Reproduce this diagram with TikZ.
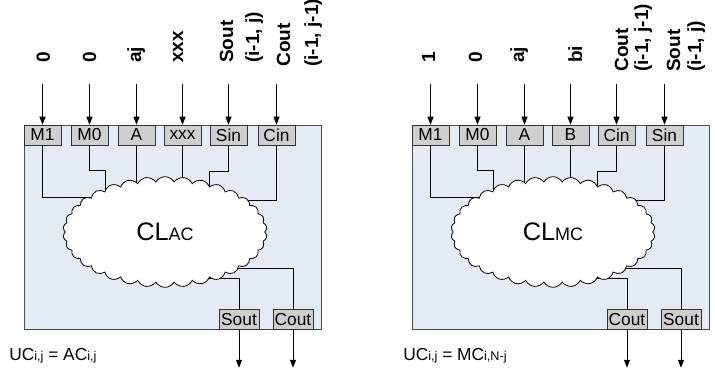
\documentclass[tikz,border=0pt]{standalone}
\usepackage{fontspec}
\setmainfont{Liberation Sans}
\usetikzlibrary{shapes.symbols,arrows.meta,calc}
\pgfdeclarelayer{back}
\pgfdeclarelayer{wiring}
\pgfsetlayers{back,wiring,main}
\definecolor{cellfill}{HTML}{E4EBF5}
\definecolor{portfill}{HTML}{CFCFCF}
\definecolor{edgegray}{HTML}{4D4D4D}
\tikzset{
  port/.style={draw=black!80, fill=portfill, minimum width=27.5pt, minimum height=15pt, inner sep=0pt, font=\fontsize{13}{15}\selectfont},
  outport/.style={port, minimum width=30pt},
  sig/.style={-{Triangle[length=6pt,width=4.5pt]}, line width=0.6pt},
  wire/.style={line width=0.6pt},
  inlabel/.style={rotate=90, anchor=base west, inner sep=0pt, font=\fontsize{14.3}{16}\selectfont\bfseries},
  logic/.style={cloud, cloud puffs=34, cloud puff arc=120, draw, fill=white, minimum width=153pt, minimum height=83pt, line width=0.6pt, font=\fontsize{19}{22}\selectfont},
  eqn/.style={anchor=base west, inner sep=0pt, font=\fontsize{13}{15}\selectfont}
}
\newcommand{\sml}[1]{{\fontsize{9.5}{11}\selectfont #1}}
\begin{document}
\begin{tikzpicture}[x=0.75pt,y=-0.75pt]
\useasboundingbox (0,0) rectangle (715,371);

\begin{pgfonlayer}{back}
\draw[draw=edgegray, fill=cellfill, line width=0.6pt] (24,125) rectangle (321,329);
\draw[draw=edgegray, fill=cellfill, line width=0.6pt] (412,125) rectangle (709,329);
\end{pgfonlayer}

\node[port] (am1) at (42.5,135) {M1};
\node[port] (am0) at (89.5,135) {M0};
\node[port] (aa) at (136.5,135) {A};
\node[port] (ax) at (182.5,135) {xxx};
\node[port] (asin) at (228.5,135) {Sin};
\node[port] (acin) at (276.5,135) {Cin};
\node[outport] (asout) at (239,319.5) {Sout};
\node[outport] (acout) at (293,319.5) {Cout};
\node[logic] (acl) at (165,232) {CL{\fontsize{13.5}{14}\selectfont AC}};

\node[inlabel] (lam1) at (50,63) {0};
\node[inlabel] (lam0) at (96,63) {0};
\node[inlabel] (laa) at (141,63) {aj};
\node[inlabel] (lax) at (183,63) {xxx};
\node[inlabel] (lasin) at (233,63) {Sout};
\node[inlabel] (lasinb) at (259,63) {(i-1, j)};
\node[inlabel] (lacin) at (290,67) {Cout};
\node[inlabel] (lacinb) at (318,67) {(i-1, j-1)};

\draw[sig] ($(am1.north)+(0,-41)$) -- (am1.north);
\draw[sig] ($(am0.north)+(0,-41)$) -- (am0.north);
\draw[sig] ($(aa.north)+(0,-41)$) -- (aa.north);
\draw[sig] ($(ax.north)+(0,-41)$) -- (ax.north);
\draw[sig] ($(asin.north)+(0,-41)$) -- (asin.north);
\draw[sig] ($(acin.north)+(0,-41)$) -- (acin.north);
\draw[sig] (asout.south) -- ++(0,38);
\draw[sig] (acout.south) -- ++(0,38);

\begin{pgfonlayer}{wiring}
\draw[wire] (am1.south) |- ($(acl.center)+(0,-35)$);
\draw[wire] (am0.south) -- ++(0,25) -| ($(acl.center)+(-60,0)$);
\draw[wire] (aa.south) -- (aa.south |- acl.center);
\draw[wire] (ax.south) -- (ax.south |- acl.center);
\draw[wire] (asin.south) -- ++(0,26) -| ($(acl.center)+(44,0)$);
\draw[wire] (acin.south) |- ($(acl.center)+(0,-32)$);
\draw[wire] (asout.north) |- ($(acl.center)+(0,46)$);
\draw[wire] (acout.north) |- ($(acl.center)+(0,36)$);
\end{pgfonlayer}

\node[eqn] (aeq) at (9,360) {UC\sml{i,j} = AC\sml{i,j}};

\node[port] (mm1) at (430.5,135) {M1};
\node[port] (mm0) at (477.5,135) {M0};
\node[port] (ma) at (524.5,135) {A};
\node[port] (mb) at (570.5,135) {B};
\node[port] (mcin) at (616.5,135) {Cin};
\node[port] (msin) at (664.5,135) {Sin};
\node[outport] (mcout) at (627,319.5) {Cout};
\node[outport] (msout) at (681,319.5) {Sout};
\node[logic] (mcl) at (553,232) {CL{\fontsize{13.5}{14}\selectfont MC}};

\node[inlabel] (lmm1) at (435,63) {1};
\node[inlabel] (lmm0) at (482,63) {0};
\node[inlabel] (lma) at (524,63) {aj};
\node[inlabel] (lmb) at (582,63) {bi};
\node[inlabel] (lmcin) at (628,72) {Cout};
\node[inlabel] (lmcinb) at (648,72) {(i-1, j-1)};
\node[inlabel] (lmsin) at (680,72) {Sout};
\node[inlabel] (lmsinb) at (701,72) {(i-1, j)};

\draw[sig] ($(mm1.north)+(0,-41)$) -- (mm1.north);
\draw[sig] ($(mm0.north)+(0,-41)$) -- (mm0.north);
\draw[sig] ($(ma.north)+(0,-41)$) -- (ma.north);
\draw[sig] ($(mb.north)+(0,-41)$) -- (mb.north);
\draw[sig] ($(mcin.north)+(0,-41)$) -- (mcin.north);
\draw[sig] ($(msin.north)+(0,-41)$) -- (msin.north);
\draw[sig] (mcout.south) -- ++(0,38);
\draw[sig] (msout.south) -- ++(0,38);

\begin{pgfonlayer}{wiring}
\draw[wire] (mm1.south) |- ($(mcl.center)+(0,-35)$);
\draw[wire] (mm0.south) -- ++(0,25) -| ($(mcl.center)+(-60,0)$);
\draw[wire] (ma.south) -- (ma.south |- mcl.center);
\draw[wire] (mb.south) -- (mb.south |- mcl.center);
\draw[wire] (mcin.south) -- ++(0,26) -| ($(mcl.center)+(44,0)$);
\draw[wire] (msin.south) |- ($(mcl.center)+(0,-32)$);
\draw[wire] (mcout.north) |- ($(mcl.center)+(0,46)$);
\draw[wire] (msout.north) |- ($(mcl.center)+(0,36)$);
\end{pgfonlayer}

\node[eqn] (meq) at (403,360) {UC\sml{i,j} = MC\sml{i,N-j}};
\end{tikzpicture}
\end{document}
